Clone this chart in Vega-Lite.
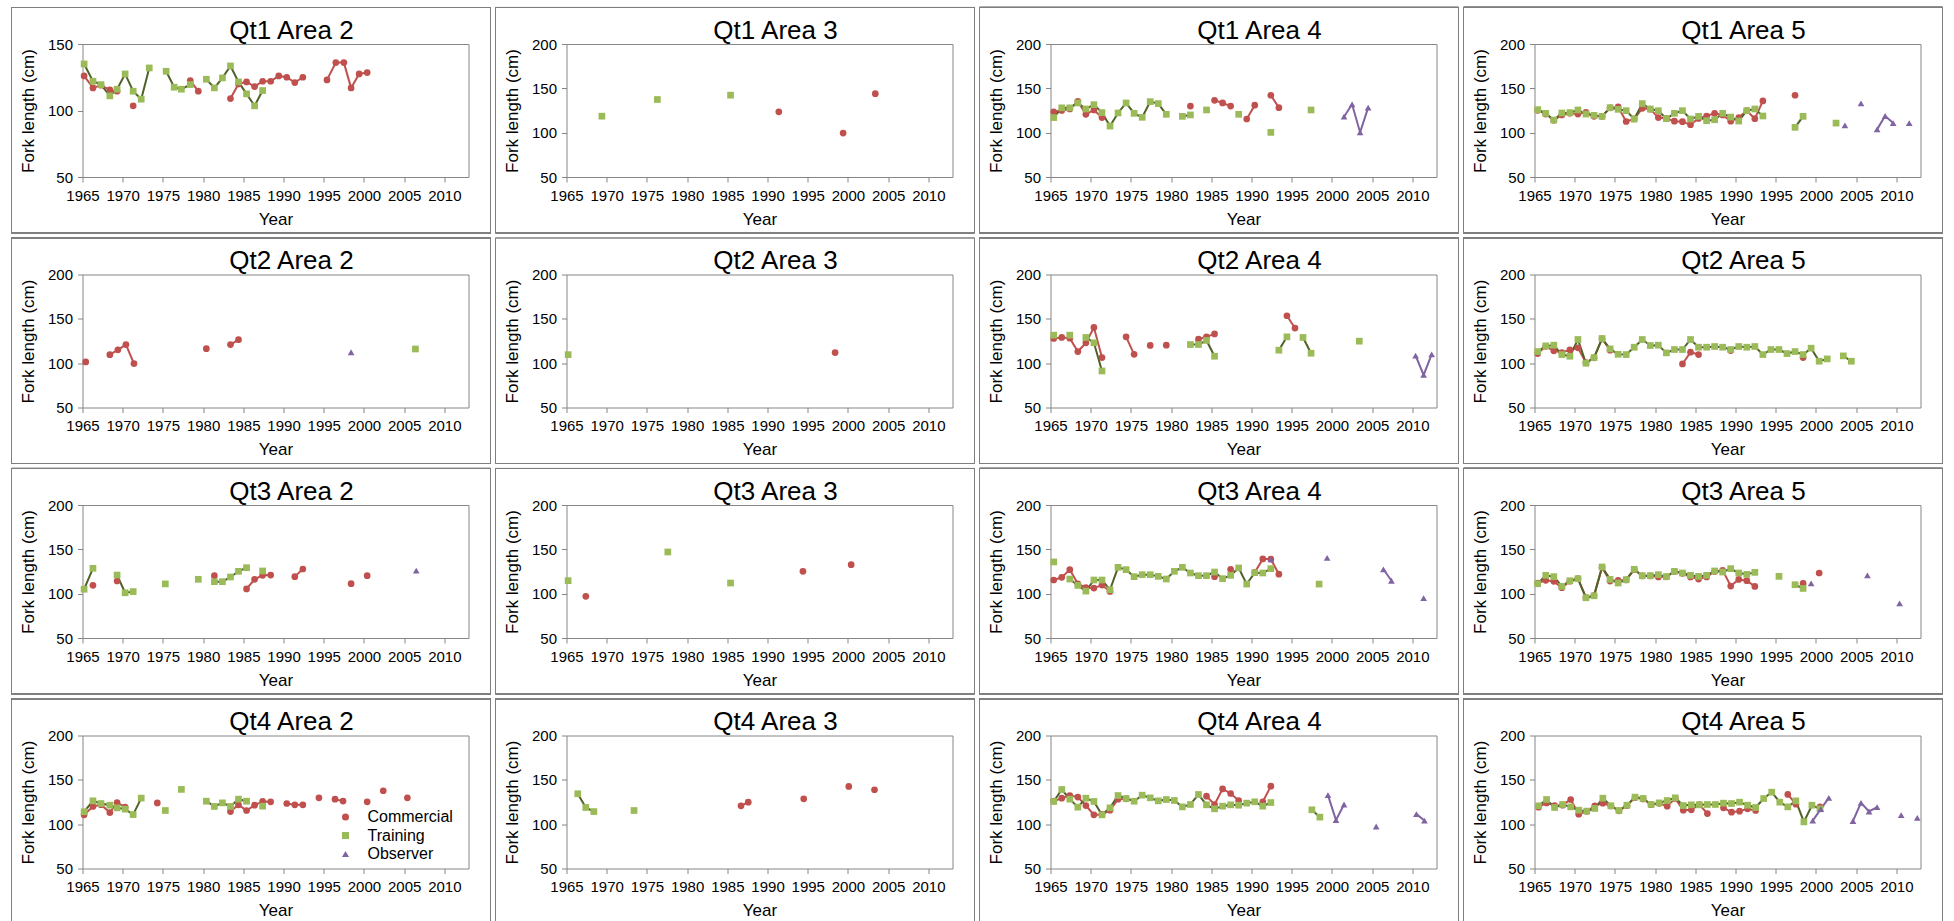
{
"$schema": "https://vega.github.io/schema/vega-lite/v6.json",
"background": "white",
"padding": {"left": 10.5, "top": 6, "right": 0, "bottom": 0},
"columns": 4,
"spacing": {"row": 1.5, "column": 2},
"resolve": {"scale": {"x": "independent", "y": "independent", "fill": "shared", "shape": "shared", "stroke": "shared"}, "legend": {"fill": "independent", "shape": "independent"}},
"data": {"values": [
{"q":1,"a":2,"s":"C","g":1,"x":1965.2,"y":126},{"q":1,"a":2,"s":"C","g":1,"x":1966.3,"y":117},{"q":1,"a":2,"s":"C","g":1,"x":1967.3,"y":119},{"q":1,"a":2,"s":"C","g":1,"x":1968.4,"y":115.5},{"q":1,"a":2,"s":"C","g":1,"x":1969.3,"y":114.5},
{"q":1,"a":2,"s":"C","g":2,"x":1971.3,"y":103.5},
{"q":1,"a":2,"s":"C","g":3,"x":1978.4,"y":122.5},{"q":1,"a":2,"s":"C","g":3,"x":1979.4,"y":114.5},
{"q":1,"a":2,"s":"C","g":4,"x":1983.4,"y":109},{"q":1,"a":2,"s":"C","g":4,"x":1984.4,"y":120},{"q":1,"a":2,"s":"C","g":4,"x":1985.4,"y":121.5},{"q":1,"a":2,"s":"C","g":4,"x":1986.4,"y":118},{"q":1,"a":2,"s":"C","g":4,"x":1987.4,"y":122},{"q":1,"a":2,"s":"C","g":4,"x":1988.4,"y":122},{"q":1,"a":2,"s":"C","g":4,"x":1989.4,"y":126},{"q":1,"a":2,"s":"C","g":4,"x":1990.4,"y":125},{"q":1,"a":2,"s":"C","g":4,"x":1991.4,"y":121},{"q":1,"a":2,"s":"C","g":4,"x":1992.4,"y":125},
{"q":1,"a":2,"s":"C","g":5,"x":1995.4,"y":123},{"q":1,"a":2,"s":"C","g":5,"x":1996.5,"y":136},{"q":1,"a":2,"s":"C","g":5,"x":1997.5,"y":136},{"q":1,"a":2,"s":"C","g":5,"x":1998.4,"y":117},{"q":1,"a":2,"s":"C","g":5,"x":1999.4,"y":127.5},{"q":1,"a":2,"s":"C","g":5,"x":2000.4,"y":128.5},
{"q":1,"a":2,"s":"T","g":1,"x":1965.2,"y":135},{"q":1,"a":2,"s":"T","g":1,"x":1966.3,"y":122},{"q":1,"a":2,"s":"T","g":1,"x":1967.3,"y":119.5},{"q":1,"a":2,"s":"T","g":1,"x":1968.4,"y":111},{"q":1,"a":2,"s":"T","g":1,"x":1969.3,"y":116},{"q":1,"a":2,"s":"T","g":1,"x":1970.3,"y":127.5},{"q":1,"a":2,"s":"T","g":1,"x":1971.3,"y":114.5},{"q":1,"a":2,"s":"T","g":1,"x":1972.3,"y":108.5},{"q":1,"a":2,"s":"T","g":1,"x":1973.3,"y":132},
{"q":1,"a":2,"s":"T","g":2,"x":1975.4,"y":129.5},{"q":1,"a":2,"s":"T","g":2,"x":1976.4,"y":117.5},{"q":1,"a":2,"s":"T","g":2,"x":1977.3,"y":116},{"q":1,"a":2,"s":"T","g":2,"x":1978.4,"y":119.5},
{"q":1,"a":2,"s":"T","g":3,"x":1980.4,"y":123.5},{"q":1,"a":2,"s":"T","g":3,"x":1981.4,"y":117},{"q":1,"a":2,"s":"T","g":3,"x":1982.4,"y":124.5},{"q":1,"a":2,"s":"T","g":3,"x":1983.4,"y":133.5},{"q":1,"a":2,"s":"T","g":3,"x":1984.4,"y":121.5},{"q":1,"a":2,"s":"T","g":3,"x":1985.4,"y":112.5},{"q":1,"a":2,"s":"T","g":3,"x":1986.4,"y":103.5},{"q":1,"a":2,"s":"T","g":3,"x":1987.4,"y":115},

{"q":1,"a":3,"s":"C","g":1,"x":1991.4,"y":123.5},{"q":1,"a":3,"s":"C","g":2,"x":1999.4,"y":99.5},{"q":1,"a":3,"s":"C","g":3,"x":2003.4,"y":144},
{"q":1,"a":3,"s":"T","g":1,"x":1969.4,"y":118.6},{"q":1,"a":3,"s":"T","g":2,"x":1976.3,"y":137.4},{"q":1,"a":3,"s":"T","g":3,"x":1985.4,"y":142.3},

{"q":1,"a":4,"s":"C","g":1,"x":1965.4,"y":123.5},{"q":1,"a":4,"s":"C","g":1,"x":1966.4,"y":125},{"q":1,"a":4,"s":"C","g":1,"x":1967.4,"y":126.7},{"q":1,"a":4,"s":"C","g":1,"x":1968.4,"y":135.4},{"q":1,"a":4,"s":"C","g":1,"x":1969.4,"y":120.7},{"q":1,"a":4,"s":"C","g":1,"x":1970.4,"y":125.6},{"q":1,"a":4,"s":"C","g":1,"x":1971.4,"y":117},
{"q":1,"a":4,"s":"C","g":2,"x":1982.4,"y":130},
{"q":1,"a":4,"s":"C","g":3,"x":1985.4,"y":136.5},{"q":1,"a":4,"s":"C","g":3,"x":1986.4,"y":133.5},{"q":1,"a":4,"s":"C","g":3,"x":1987.4,"y":130},
{"q":1,"a":4,"s":"C","g":4,"x":1989.4,"y":115.4},{"q":1,"a":4,"s":"C","g":4,"x":1990.4,"y":131},
{"q":1,"a":4,"s":"C","g":5,"x":1992.4,"y":142.2},{"q":1,"a":4,"s":"C","g":5,"x":1993.4,"y":128.2},
{"q":1,"a":4,"s":"T","g":1,"x":1965.4,"y":117},{"q":1,"a":4,"s":"T","g":1,"x":1966.4,"y":128},{"q":1,"a":4,"s":"T","g":1,"x":1967.4,"y":128},{"q":1,"a":4,"s":"T","g":1,"x":1968.4,"y":133.5},{"q":1,"a":4,"s":"T","g":1,"x":1969.4,"y":126.7},{"q":1,"a":4,"s":"T","g":1,"x":1970.4,"y":131.6},{"q":1,"a":4,"s":"T","g":1,"x":1971.4,"y":122.6},{"q":1,"a":4,"s":"T","g":1,"x":1972.4,"y":107.4},{"q":1,"a":4,"s":"T","g":1,"x":1973.4,"y":122.2},{"q":1,"a":4,"s":"T","g":1,"x":1974.4,"y":133.5},{"q":1,"a":4,"s":"T","g":1,"x":1975.4,"y":121.8},{"q":1,"a":4,"s":"T","g":1,"x":1976.4,"y":117.3},{"q":1,"a":4,"s":"T","g":1,"x":1977.4,"y":135},{"q":1,"a":4,"s":"T","g":1,"x":1978.4,"y":132.8},{"q":1,"a":4,"s":"T","g":1,"x":1979.4,"y":120.7},
{"q":1,"a":4,"s":"T","g":2,"x":1981.4,"y":118.4},{"q":1,"a":4,"s":"T","g":2,"x":1982.4,"y":120},
{"q":1,"a":4,"s":"T","g":3,"x":1984.4,"y":125.6},{"q":1,"a":4,"s":"T","g":4,"x":1988.4,"y":120.7},{"q":1,"a":4,"s":"T","g":5,"x":1992.4,"y":100.3},{"q":1,"a":4,"s":"T","g":6,"x":1997.4,"y":125.6},
{"q":1,"a":4,"s":"O","g":1,"x":2001.5,"y":118},{"q":1,"a":4,"s":"O","g":1,"x":2002.5,"y":132},{"q":1,"a":4,"s":"O","g":1,"x":2003.5,"y":100.3},{"q":1,"a":4,"s":"O","g":1,"x":2004.5,"y":128.2},

{"q":1,"a":5,"s":"C","g":1,"x":1965.4,"y":125.2},{"q":1,"a":5,"s":"C","g":1,"x":1966.4,"y":121},{"q":1,"a":5,"s":"C","g":1,"x":1967.4,"y":114},{"q":1,"a":5,"s":"C","g":1,"x":1968.4,"y":120},{"q":1,"a":5,"s":"C","g":1,"x":1969.4,"y":122},{"q":1,"a":5,"s":"C","g":1,"x":1970.4,"y":121},{"q":1,"a":5,"s":"C","g":1,"x":1971.4,"y":123},{"q":1,"a":5,"s":"C","g":1,"x":1972.4,"y":118.4},{"q":1,"a":5,"s":"C","g":1,"x":1973.4,"y":118.4},{"q":1,"a":5,"s":"C","g":1,"x":1974.4,"y":128},{"q":1,"a":5,"s":"C","g":1,"x":1975.4,"y":129},{"q":1,"a":5,"s":"C","g":1,"x":1976.4,"y":112.6},{"q":1,"a":5,"s":"C","g":1,"x":1977.4,"y":115.5},{"q":1,"a":5,"s":"C","g":1,"x":1978.4,"y":127.5},{"q":1,"a":5,"s":"C","g":1,"x":1979.4,"y":126.5},{"q":1,"a":5,"s":"C","g":1,"x":1980.4,"y":117},{"q":1,"a":5,"s":"C","g":1,"x":1981.4,"y":116},{"q":1,"a":5,"s":"C","g":1,"x":1982.4,"y":113},{"q":1,"a":5,"s":"C","g":1,"x":1983.4,"y":112.4},{"q":1,"a":5,"s":"C","g":1,"x":1984.4,"y":109},{"q":1,"a":5,"s":"C","g":1,"x":1985.4,"y":116},{"q":1,"a":5,"s":"C","g":1,"x":1986.4,"y":118.8},{"q":1,"a":5,"s":"C","g":1,"x":1987.4,"y":121.8},{"q":1,"a":5,"s":"C","g":1,"x":1988.4,"y":120},{"q":1,"a":5,"s":"C","g":1,"x":1989.4,"y":113},{"q":1,"a":5,"s":"C","g":1,"x":1990.4,"y":117},{"q":1,"a":5,"s":"C","g":1,"x":1991.4,"y":124.8},{"q":1,"a":5,"s":"C","g":1,"x":1992.4,"y":115.8},{"q":1,"a":5,"s":"C","g":1,"x":1993.4,"y":135.8},
{"q":1,"a":5,"s":"C","g":2,"x":1997.4,"y":142.2},
{"q":1,"a":5,"s":"T","g":1,"x":1965.4,"y":126},{"q":1,"a":5,"s":"T","g":1,"x":1966.4,"y":121.8},{"q":1,"a":5,"s":"T","g":1,"x":1967.4,"y":114.2},{"q":1,"a":5,"s":"T","g":1,"x":1968.4,"y":122.2},{"q":1,"a":5,"s":"T","g":1,"x":1969.4,"y":122.6},{"q":1,"a":5,"s":"T","g":1,"x":1970.4,"y":125.6},{"q":1,"a":5,"s":"T","g":1,"x":1971.4,"y":121},{"q":1,"a":5,"s":"T","g":1,"x":1972.4,"y":119.5},{"q":1,"a":5,"s":"T","g":1,"x":1973.4,"y":118.4},{"q":1,"a":5,"s":"T","g":1,"x":1974.4,"y":128.2},{"q":1,"a":5,"s":"T","g":1,"x":1975.4,"y":126.3},{"q":1,"a":5,"s":"T","g":1,"x":1976.4,"y":124.8},{"q":1,"a":5,"s":"T","g":1,"x":1977.4,"y":115.4},{"q":1,"a":5,"s":"T","g":1,"x":1978.4,"y":132.8},{"q":1,"a":5,"s":"T","g":1,"x":1979.4,"y":126.7},{"q":1,"a":5,"s":"T","g":1,"x":1980.4,"y":124.8},{"q":1,"a":5,"s":"T","g":1,"x":1981.4,"y":115.8},{"q":1,"a":5,"s":"T","g":1,"x":1982.4,"y":121.8},{"q":1,"a":5,"s":"T","g":1,"x":1983.4,"y":124.8},{"q":1,"a":5,"s":"T","g":1,"x":1984.4,"y":115.4},{"q":1,"a":5,"s":"T","g":1,"x":1985.4,"y":118.4},{"q":1,"a":5,"s":"T","g":1,"x":1986.4,"y":113.5},{"q":1,"a":5,"s":"T","g":1,"x":1987.4,"y":114.6},{"q":1,"a":5,"s":"T","g":1,"x":1988.4,"y":121.8},{"q":1,"a":5,"s":"T","g":1,"x":1989.4,"y":117.6},{"q":1,"a":5,"s":"T","g":1,"x":1990.4,"y":113.1},{"q":1,"a":5,"s":"T","g":1,"x":1991.4,"y":124.8},{"q":1,"a":5,"s":"T","g":1,"x":1992.4,"y":126.7},{"q":1,"a":5,"s":"T","g":1,"x":1993.4,"y":118.8},
{"q":1,"a":5,"s":"T","g":2,"x":1997.4,"y":106},{"q":1,"a":5,"s":"T","g":2,"x":1998.4,"y":118.4},
{"q":1,"a":5,"s":"T","g":3,"x":2002.5,"y":110.8},
{"q":1,"a":5,"s":"O","g":1,"x":2003.6,"y":108.2},{"q":1,"a":5,"s":"O","g":2,"x":2005.6,"y":133},{"q":1,"a":5,"s":"O","g":3,"x":2007.6,"y":103.7},{"q":1,"a":5,"s":"O","g":3,"x":2008.6,"y":118.8},{"q":1,"a":5,"s":"O","g":3,"x":2009.6,"y":110.8},{"q":1,"a":5,"s":"O","g":4,"x":2011.6,"y":110.8},

{"q":2,"a":2,"s":"C","g":1,"x":1965.4,"y":101.4},{"q":2,"a":2,"s":"C","g":2,"x":1968.4,"y":109.6},{"q":2,"a":2,"s":"C","g":2,"x":1969.4,"y":115},{"q":2,"a":2,"s":"C","g":2,"x":1970.4,"y":121},{"q":2,"a":2,"s":"C","g":2,"x":1971.4,"y":99.5},{"q":2,"a":2,"s":"C","g":3,"x":1980.4,"y":116.4},{"q":2,"a":2,"s":"C","g":4,"x":1983.4,"y":121},{"q":2,"a":2,"s":"C","g":4,"x":1984.4,"y":126.5},
{"q":2,"a":2,"s":"T","g":1,"x":2006.4,"y":116},{"q":2,"a":2,"s":"O","g":1,"x":1998.4,"y":112.3},

{"q":2,"a":3,"s":"C","g":1,"x":1998.4,"y":112},{"q":2,"a":3,"s":"T","g":1,"x":1965.2,"y":109.6},

{"q":2,"a":4,"s":"C","g":1,"x":1965.4,"y":127.8},{"q":2,"a":4,"s":"C","g":1,"x":1966.4,"y":129},{"q":2,"a":4,"s":"C","g":1,"x":1967.4,"y":128.2},{"q":2,"a":4,"s":"C","g":1,"x":1968.4,"y":113.1},{"q":2,"a":4,"s":"C","g":1,"x":1969.4,"y":122.9},{"q":2,"a":4,"s":"C","g":1,"x":1970.4,"y":140.3},{"q":2,"a":4,"s":"C","g":1,"x":1971.4,"y":106.3},
{"q":2,"a":4,"s":"C","g":2,"x":1974.4,"y":129.7},{"q":2,"a":4,"s":"C","g":2,"x":1975.4,"y":110},
{"q":2,"a":4,"s":"C","g":3,"x":1977.4,"y":120},{"q":2,"a":4,"s":"C","g":4,"x":1979.4,"y":120.3},
{"q":2,"a":4,"s":"C","g":5,"x":1983.4,"y":127},{"q":2,"a":4,"s":"C","g":5,"x":1984.4,"y":129.7},{"q":2,"a":4,"s":"C","g":5,"x":1985.4,"y":133},
{"q":2,"a":4,"s":"C","g":6,"x":1994.4,"y":153.5},{"q":2,"a":4,"s":"C","g":6,"x":1995.4,"y":139.6},
{"q":2,"a":4,"s":"T","g":1,"x":1965.4,"y":131.6},{"q":2,"a":4,"s":"T","g":2,"x":1967.4,"y":131.6},
{"q":2,"a":4,"s":"T","g":3,"x":1969.4,"y":129},{"q":2,"a":4,"s":"T","g":3,"x":1970.4,"y":123},{"q":2,"a":4,"s":"T","g":3,"x":1971.4,"y":91.2},
{"q":2,"a":4,"s":"T","g":4,"x":1982.4,"y":121},{"q":2,"a":4,"s":"T","g":4,"x":1983.4,"y":121},{"q":2,"a":4,"s":"T","g":4,"x":1984.4,"y":125.6},{"q":2,"a":4,"s":"T","g":4,"x":1985.4,"y":107.8},
{"q":2,"a":4,"s":"T","g":5,"x":1993.4,"y":114.6},{"q":2,"a":4,"s":"T","g":5,"x":1994.4,"y":129.7},
{"q":2,"a":4,"s":"T","g":6,"x":1996.4,"y":129},{"q":2,"a":4,"s":"T","g":6,"x":1997.4,"y":111.2},
{"q":2,"a":4,"s":"T","g":7,"x":2003.4,"y":124.8},
{"q":2,"a":4,"s":"O","g":1,"x":2010.4,"y":108.6},{"q":2,"a":4,"s":"O","g":1,"x":2011.4,"y":86.7},{"q":2,"a":4,"s":"O","g":1,"x":2012.4,"y":110},

{"q":2,"a":5,"s":"C","g":1,"x":1965.4,"y":110.8},{"q":2,"a":5,"s":"C","g":1,"x":1966.4,"y":119},{"q":2,"a":5,"s":"C","g":1,"x":1967.4,"y":113.9},{"q":2,"a":5,"s":"C","g":1,"x":1968.4,"y":112},{"q":2,"a":5,"s":"C","g":1,"x":1969.4,"y":115},{"q":2,"a":5,"s":"C","g":1,"x":1970.4,"y":117.3},{"q":2,"a":5,"s":"C","g":1,"x":1971.4,"y":100.5},{"q":2,"a":5,"s":"C","g":1,"x":1972.4,"y":106},{"q":2,"a":5,"s":"C","g":1,"x":1973.4,"y":127.5},{"q":2,"a":5,"s":"C","g":1,"x":1974.4,"y":114.6},
{"q":2,"a":5,"s":"C","g":2,"x":1983.4,"y":99.1},{"q":2,"a":5,"s":"C","g":2,"x":1984.4,"y":112.4},{"q":2,"a":5,"s":"C","g":2,"x":1985.4,"y":109.7},
{"q":2,"a":5,"s":"C","g":3,"x":1989.4,"y":114.2},{"q":2,"a":5,"s":"C","g":4,"x":1998.4,"y":106.3},
{"q":2,"a":5,"s":"T","g":1,"x":1965.4,"y":113.1},{"q":2,"a":5,"s":"T","g":1,"x":1966.4,"y":119.5},{"q":2,"a":5,"s":"T","g":1,"x":1967.4,"y":120.3},{"q":2,"a":5,"s":"T","g":1,"x":1968.4,"y":109.7},{"q":2,"a":5,"s":"T","g":1,"x":1969.4,"y":107.8},{"q":2,"a":5,"s":"T","g":1,"x":1970.4,"y":126.7},{"q":2,"a":5,"s":"T","g":1,"x":1971.4,"y":99.9},{"q":2,"a":5,"s":"T","g":1,"x":1972.4,"y":106.3},{"q":2,"a":5,"s":"T","g":1,"x":1973.4,"y":127.8},{"q":2,"a":5,"s":"T","g":1,"x":1974.4,"y":116.1},{"q":2,"a":5,"s":"T","g":1,"x":1975.4,"y":110},{"q":2,"a":5,"s":"T","g":1,"x":1976.4,"y":109.7},{"q":2,"a":5,"s":"T","g":1,"x":1977.4,"y":118},{"q":2,"a":5,"s":"T","g":1,"x":1978.4,"y":126.7},{"q":2,"a":5,"s":"T","g":1,"x":1979.4,"y":119.9},{"q":2,"a":5,"s":"T","g":1,"x":1980.4,"y":120.3},{"q":2,"a":5,"s":"T","g":1,"x":1981.4,"y":111.6},{"q":2,"a":5,"s":"T","g":1,"x":1982.4,"y":115.4},{"q":2,"a":5,"s":"T","g":1,"x":1983.4,"y":115.4},{"q":2,"a":5,"s":"T","g":1,"x":1984.4,"y":126.7},{"q":2,"a":5,"s":"T","g":1,"x":1985.4,"y":118},{"q":2,"a":5,"s":"T","g":1,"x":1986.4,"y":118},{"q":2,"a":5,"s":"T","g":1,"x":1987.4,"y":118.8},{"q":2,"a":5,"s":"T","g":1,"x":1988.4,"y":118},{"q":2,"a":5,"s":"T","g":1,"x":1989.4,"y":115.4},{"q":2,"a":5,"s":"T","g":1,"x":1990.4,"y":118.8},{"q":2,"a":5,"s":"T","g":1,"x":1991.4,"y":118},{"q":2,"a":5,"s":"T","g":1,"x":1992.4,"y":118.8},{"q":2,"a":5,"s":"T","g":1,"x":1993.4,"y":109.7},{"q":2,"a":5,"s":"T","g":1,"x":1994.4,"y":115.4},{"q":2,"a":5,"s":"T","g":1,"x":1995.4,"y":115.4},{"q":2,"a":5,"s":"T","g":1,"x":1996.4,"y":110.8},{"q":2,"a":5,"s":"T","g":1,"x":1997.4,"y":113.1},{"q":2,"a":5,"s":"T","g":1,"x":1998.4,"y":109.7},{"q":2,"a":5,"s":"T","g":1,"x":1999.4,"y":116.9},{"q":2,"a":5,"s":"T","g":1,"x":2000.4,"y":102.2},{"q":2,"a":5,"s":"T","g":1,"x":2001.4,"y":104.8},
{"q":2,"a":5,"s":"T","g":2,"x":2003.4,"y":108.2},{"q":2,"a":5,"s":"T","g":2,"x":2004.4,"y":102.2},

{"q":3,"a":2,"s":"C","g":1,"x":1966.3,"y":109.4},{"q":3,"a":2,"s":"C","g":2,"x":1969.3,"y":114.3},{"q":3,"a":2,"s":"C","g":3,"x":1981.4,"y":120.3},
{"q":3,"a":2,"s":"C","g":4,"x":1985.4,"y":105.3},{"q":3,"a":2,"s":"C","g":4,"x":1986.4,"y":116.2},{"q":3,"a":2,"s":"C","g":4,"x":1987.4,"y":120.7},{"q":3,"a":2,"s":"C","g":4,"x":1988.4,"y":121},
{"q":3,"a":2,"s":"C","g":5,"x":1991.4,"y":119.2},{"q":3,"a":2,"s":"C","g":5,"x":1992.4,"y":127.8},
{"q":3,"a":2,"s":"C","g":6,"x":1998.4,"y":111.3},{"q":3,"a":2,"s":"C","g":7,"x":2000.4,"y":120.3},
{"q":3,"a":2,"s":"T","g":1,"x":1965.2,"y":105},{"q":3,"a":2,"s":"T","g":1,"x":1966.3,"y":128.6},
{"q":3,"a":2,"s":"T","g":2,"x":1969.3,"y":121},{"q":3,"a":2,"s":"T","g":2,"x":1970.3,"y":101},{"q":3,"a":2,"s":"T","g":2,"x":1971.3,"y":102.3},
{"q":3,"a":2,"s":"T","g":3,"x":1975.3,"y":111},{"q":3,"a":2,"s":"T","g":4,"x":1979.4,"y":116.2},
{"q":3,"a":2,"s":"T","g":5,"x":1981.4,"y":113.5},{"q":3,"a":2,"s":"T","g":5,"x":1982.4,"y":113.5},{"q":3,"a":2,"s":"T","g":5,"x":1983.4,"y":118.8},{"q":3,"a":2,"s":"T","g":5,"x":1984.4,"y":125.2},{"q":3,"a":2,"s":"T","g":5,"x":1985.4,"y":129.3},
{"q":3,"a":2,"s":"T","g":6,"x":1987.4,"y":125.6},
{"q":3,"a":2,"s":"O","g":1,"x":2006.5,"y":126},

{"q":3,"a":3,"s":"C","g":1,"x":1967.4,"y":97},{"q":3,"a":3,"s":"C","g":2,"x":1994.4,"y":125.2},{"q":3,"a":3,"s":"C","g":3,"x":2000.4,"y":132.7},
{"q":3,"a":3,"s":"T","g":1,"x":1965.2,"y":114.7},{"q":3,"a":3,"s":"T","g":2,"x":1977.6,"y":147},{"q":3,"a":3,"s":"T","g":3,"x":1985.4,"y":112},

{"q":3,"a":4,"s":"C","g":1,"x":1965.4,"y":115.4},{"q":3,"a":4,"s":"C","g":1,"x":1966.4,"y":118.4},{"q":3,"a":4,"s":"C","g":1,"x":1967.4,"y":127.1},{"q":3,"a":4,"s":"C","g":1,"x":1968.4,"y":111.2},{"q":3,"a":4,"s":"C","g":1,"x":1969.4,"y":106.7},{"q":3,"a":4,"s":"C","g":1,"x":1970.4,"y":106.3},{"q":3,"a":4,"s":"C","g":1,"x":1971.4,"y":109.7},{"q":3,"a":4,"s":"C","g":1,"x":1972.4,"y":102.5},
{"q":3,"a":4,"s":"C","g":2,"x":1985.4,"y":119.2},{"q":3,"a":4,"s":"C","g":3,"x":1987.4,"y":127.5},
{"q":3,"a":4,"s":"C","g":4,"x":1990.4,"y":124},{"q":3,"a":4,"s":"C","g":4,"x":1991.4,"y":139.2},{"q":3,"a":4,"s":"C","g":4,"x":1992.4,"y":139},{"q":3,"a":4,"s":"C","g":4,"x":1993.4,"y":122},
{"q":3,"a":4,"s":"T","g":1,"x":1965.4,"y":135.8},
{"q":3,"a":4,"s":"T","g":2,"x":1967.4,"y":116.5},{"q":3,"a":4,"s":"T","g":2,"x":1968.4,"y":109.3},{"q":3,"a":4,"s":"T","g":2,"x":1969.4,"y":102.9},{"q":3,"a":4,"s":"T","g":2,"x":1970.4,"y":115.4},{"q":3,"a":4,"s":"T","g":2,"x":1971.4,"y":115.4},{"q":3,"a":4,"s":"T","g":2,"x":1972.4,"y":104.4},{"q":3,"a":4,"s":"T","g":2,"x":1973.4,"y":129.7},{"q":3,"a":4,"s":"T","g":2,"x":1974.4,"y":127.1},{"q":3,"a":4,"s":"T","g":2,"x":1975.4,"y":119.2},{"q":3,"a":4,"s":"T","g":2,"x":1976.4,"y":121.4},{"q":3,"a":4,"s":"T","g":2,"x":1977.4,"y":121.4},{"q":3,"a":4,"s":"T","g":2,"x":1978.4,"y":119.5},{"q":3,"a":4,"s":"T","g":2,"x":1979.4,"y":116.5},{"q":3,"a":4,"s":"T","g":2,"x":1980.4,"y":125.2},{"q":3,"a":4,"s":"T","g":2,"x":1981.4,"y":129.7},{"q":3,"a":4,"s":"T","g":2,"x":1982.4,"y":123.3},{"q":3,"a":4,"s":"T","g":2,"x":1983.4,"y":120.3},{"q":3,"a":4,"s":"T","g":2,"x":1984.4,"y":120.3},{"q":3,"a":4,"s":"T","g":2,"x":1985.4,"y":124.4},{"q":3,"a":4,"s":"T","g":2,"x":1986.4,"y":116.9},{"q":3,"a":4,"s":"T","g":2,"x":1987.4,"y":120.7},{"q":3,"a":4,"s":"T","g":2,"x":1988.4,"y":129},{"q":3,"a":4,"s":"T","g":2,"x":1989.4,"y":110.8},{"q":3,"a":4,"s":"T","g":2,"x":1990.4,"y":123.7},{"q":3,"a":4,"s":"T","g":2,"x":1991.4,"y":123.3},{"q":3,"a":4,"s":"T","g":2,"x":1992.4,"y":128.2},
{"q":3,"a":4,"s":"T","g":3,"x":1998.4,"y":110.8},
{"q":3,"a":4,"s":"O","g":1,"x":1992.4,"y":138.8},{"q":3,"a":4,"s":"O","g":2,"x":1999.4,"y":140.3},{"q":3,"a":4,"s":"O","g":3,"x":2006.4,"y":127.5},{"q":3,"a":4,"s":"O","g":3,"x":2007.4,"y":114.6},{"q":3,"a":4,"s":"O","g":4,"x":2011.4,"y":95},

{"q":3,"a":5,"s":"C","g":1,"x":1965.4,"y":112},{"q":3,"a":5,"s":"C","g":1,"x":1966.4,"y":115},{"q":3,"a":5,"s":"C","g":1,"x":1967.4,"y":113.9},{"q":3,"a":5,"s":"C","g":1,"x":1968.4,"y":106.7},{"q":3,"a":5,"s":"C","g":1,"x":1969.4,"y":114},{"q":3,"a":5,"s":"C","g":1,"x":1970.4,"y":117},{"q":3,"a":5,"s":"C","g":1,"x":1971.4,"y":95.5},{"q":3,"a":5,"s":"C","g":1,"x":1972.4,"y":97.8},{"q":3,"a":5,"s":"C","g":1,"x":1973.4,"y":129.5},{"q":3,"a":5,"s":"C","g":1,"x":1974.4,"y":114.2},{"q":3,"a":5,"s":"C","g":1,"x":1975.4,"y":115},{"q":3,"a":5,"s":"C","g":1,"x":1976.4,"y":115.5},{"q":3,"a":5,"s":"C","g":1,"x":1977.4,"y":127},{"q":3,"a":5,"s":"C","g":1,"x":1978.4,"y":120},{"q":3,"a":5,"s":"C","g":1,"x":1979.4,"y":120},{"q":3,"a":5,"s":"C","g":1,"x":1980.4,"y":118.8},{"q":3,"a":5,"s":"C","g":1,"x":1981.4,"y":119},{"q":3,"a":5,"s":"C","g":1,"x":1982.4,"y":125},{"q":3,"a":5,"s":"C","g":1,"x":1983.4,"y":123},{"q":3,"a":5,"s":"C","g":1,"x":1984.4,"y":118.8},{"q":3,"a":5,"s":"C","g":1,"x":1985.4,"y":116.5},{"q":3,"a":5,"s":"C","g":1,"x":1986.4,"y":118.8},{"q":3,"a":5,"s":"C","g":1,"x":1987.4,"y":125},{"q":3,"a":5,"s":"C","g":1,"x":1988.4,"y":126.3},{"q":3,"a":5,"s":"C","g":1,"x":1989.4,"y":108.6},{"q":3,"a":5,"s":"C","g":1,"x":1990.4,"y":116.1},{"q":3,"a":5,"s":"C","g":1,"x":1991.4,"y":114.6},{"q":3,"a":5,"s":"C","g":1,"x":1992.4,"y":108.2},
{"q":3,"a":5,"s":"C","g":2,"x":1998.4,"y":111.6},{"q":3,"a":5,"s":"C","g":3,"x":2000.4,"y":123.3},
{"q":3,"a":5,"s":"T","g":1,"x":1965.4,"y":111.2},{"q":3,"a":5,"s":"T","g":1,"x":1966.4,"y":120.7},{"q":3,"a":5,"s":"T","g":1,"x":1967.4,"y":119.2},{"q":3,"a":5,"s":"T","g":1,"x":1968.4,"y":108.2},{"q":3,"a":5,"s":"T","g":1,"x":1969.4,"y":114.6},{"q":3,"a":5,"s":"T","g":1,"x":1970.4,"y":116.9},{"q":3,"a":5,"s":"T","g":1,"x":1971.4,"y":95.4},{"q":3,"a":5,"s":"T","g":1,"x":1972.4,"y":97.6},{"q":3,"a":5,"s":"T","g":1,"x":1973.4,"y":130.1},{"q":3,"a":5,"s":"T","g":1,"x":1974.4,"y":116.1},{"q":3,"a":5,"s":"T","g":1,"x":1975.4,"y":112},{"q":3,"a":5,"s":"T","g":1,"x":1976.4,"y":115.8},{"q":3,"a":5,"s":"T","g":1,"x":1977.4,"y":127.5},{"q":3,"a":5,"s":"T","g":1,"x":1978.4,"y":120.3},{"q":3,"a":5,"s":"T","g":1,"x":1979.4,"y":120.3},{"q":3,"a":5,"s":"T","g":1,"x":1980.4,"y":121.4},{"q":3,"a":5,"s":"T","g":1,"x":1981.4,"y":119.2},{"q":3,"a":5,"s":"T","g":1,"x":1982.4,"y":125.2},{"q":3,"a":5,"s":"T","g":1,"x":1983.4,"y":123.3},{"q":3,"a":5,"s":"T","g":1,"x":1984.4,"y":120.7},{"q":3,"a":5,"s":"T","g":1,"x":1985.4,"y":119.5},{"q":3,"a":5,"s":"T","g":1,"x":1986.4,"y":120.7},{"q":3,"a":5,"s":"T","g":1,"x":1987.4,"y":125.6},{"q":3,"a":5,"s":"T","g":1,"x":1988.4,"y":124.4},{"q":3,"a":5,"s":"T","g":1,"x":1989.4,"y":128.2},{"q":3,"a":5,"s":"T","g":1,"x":1990.4,"y":123.3},{"q":3,"a":5,"s":"T","g":1,"x":1991.4,"y":121.8},{"q":3,"a":5,"s":"T","g":1,"x":1992.4,"y":124},
{"q":3,"a":5,"s":"T","g":2,"x":1995.4,"y":119.5},{"q":3,"a":5,"s":"T","g":3,"x":1997.4,"y":110.1},{"q":3,"a":5,"s":"T","g":3,"x":1998.4,"y":105.9},
{"q":3,"a":5,"s":"O","g":1,"x":1999.4,"y":111.6},{"q":3,"a":5,"s":"O","g":2,"x":2006.4,"y":120.7},{"q":3,"a":5,"s":"O","g":3,"x":2010.4,"y":89},

{"q":4,"a":2,"s":"C","g":1,"x":1965.2,"y":110.5},{"q":4,"a":2,"s":"C","g":1,"x":1966.3,"y":120},{"q":4,"a":2,"s":"C","g":1,"x":1967.3,"y":122},{"q":4,"a":2,"s":"C","g":1,"x":1968.4,"y":113.1},{"q":4,"a":2,"s":"C","g":1,"x":1969.3,"y":124.4},{"q":4,"a":2,"s":"C","g":1,"x":1970.3,"y":119.2},
{"q":4,"a":2,"s":"C","g":2,"x":1974.3,"y":124},
{"q":4,"a":2,"s":"C","g":3,"x":1983.4,"y":114.2},{"q":4,"a":2,"s":"C","g":3,"x":1984.4,"y":121.8},{"q":4,"a":2,"s":"C","g":3,"x":1985.4,"y":115.4},{"q":4,"a":2,"s":"C","g":3,"x":1986.4,"y":121.4},{"q":4,"a":2,"s":"C","g":3,"x":1987.4,"y":125.6},{"q":4,"a":2,"s":"C","g":3,"x":1988.4,"y":125.2},
{"q":4,"a":2,"s":"C","g":4,"x":1990.4,"y":123.3},{"q":4,"a":2,"s":"C","g":4,"x":1991.4,"y":121.8},{"q":4,"a":2,"s":"C","g":4,"x":1992.4,"y":121.8},
{"q":4,"a":2,"s":"C","g":5,"x":1994.4,"y":129.7},{"q":4,"a":2,"s":"C","g":6,"x":1996.4,"y":128.2},{"q":4,"a":2,"s":"C","g":6,"x":1997.4,"y":126},{"q":4,"a":2,"s":"C","g":7,"x":2000.4,"y":125.2},{"q":4,"a":2,"s":"C","g":8,"x":2002.4,"y":137.7},{"q":4,"a":2,"s":"C","g":9,"x":2005.4,"y":129.7},
{"q":4,"a":2,"s":"T","g":1,"x":1965.2,"y":114},{"q":4,"a":2,"s":"T","g":1,"x":1966.3,"y":126.3},{"q":4,"a":2,"s":"T","g":1,"x":1967.3,"y":123.3},{"q":4,"a":2,"s":"T","g":1,"x":1968.4,"y":121.4},{"q":4,"a":2,"s":"T","g":1,"x":1969.3,"y":118.4},{"q":4,"a":2,"s":"T","g":1,"x":1970.3,"y":117},{"q":4,"a":2,"s":"T","g":1,"x":1971.3,"y":110.8},{"q":4,"a":2,"s":"T","g":1,"x":1972.3,"y":129.4},
{"q":4,"a":2,"s":"T","g":2,"x":1975.3,"y":115.4},{"q":4,"a":2,"s":"T","g":3,"x":1977.3,"y":139.2},
{"q":4,"a":2,"s":"T","g":4,"x":1980.4,"y":125.9},{"q":4,"a":2,"s":"T","g":4,"x":1981.4,"y":120},{"q":4,"a":2,"s":"T","g":4,"x":1982.4,"y":124},{"q":4,"a":2,"s":"T","g":4,"x":1983.4,"y":120},{"q":4,"a":2,"s":"T","g":4,"x":1984.4,"y":128.2},{"q":4,"a":2,"s":"T","g":4,"x":1985.4,"y":125.9},
{"q":4,"a":2,"s":"T","g":5,"x":1987.4,"y":120.3},

{"q":4,"a":3,"s":"C","g":1,"x":1986.7,"y":120.7},{"q":4,"a":3,"s":"C","g":1,"x":1987.6,"y":124.8},{"q":4,"a":3,"s":"C","g":2,"x":1994.5,"y":128.6},{"q":4,"a":3,"s":"C","g":3,"x":2000.1,"y":142.6},{"q":4,"a":3,"s":"C","g":4,"x":2003.3,"y":138.8},
{"q":4,"a":3,"s":"T","g":1,"x":1966.4,"y":134.3},{"q":4,"a":3,"s":"T","g":1,"x":1967.4,"y":118.8},{"q":4,"a":3,"s":"T","g":1,"x":1968.4,"y":114.2},{"q":4,"a":3,"s":"T","g":2,"x":1973.4,"y":115.4},

{"q":4,"a":4,"s":"C","g":1,"x":1965.4,"y":126},{"q":4,"a":4,"s":"C","g":1,"x":1966.4,"y":129.3},{"q":4,"a":4,"s":"C","g":1,"x":1967.4,"y":132.3},{"q":4,"a":4,"s":"C","g":1,"x":1968.4,"y":130.5},{"q":4,"a":4,"s":"C","g":1,"x":1969.4,"y":121},{"q":4,"a":4,"s":"C","g":1,"x":1970.4,"y":110.5},{"q":4,"a":4,"s":"C","g":1,"x":1971.4,"y":111},{"q":4,"a":4,"s":"C","g":1,"x":1972.4,"y":115.8},{"q":4,"a":4,"s":"C","g":1,"x":1973.4,"y":128.2},{"q":4,"a":4,"s":"C","g":1,"x":1974.4,"y":128.6},
{"q":4,"a":4,"s":"C","g":2,"x":1984.4,"y":131.6},{"q":4,"a":4,"s":"C","g":2,"x":1985.4,"y":122.2},{"q":4,"a":4,"s":"C","g":2,"x":1986.4,"y":139.8},{"q":4,"a":4,"s":"C","g":2,"x":1987.4,"y":134.6},{"q":4,"a":4,"s":"C","g":2,"x":1988.4,"y":126.7},
{"q":4,"a":4,"s":"C","g":3,"x":1991.4,"y":125.2},{"q":4,"a":4,"s":"C","g":3,"x":1992.4,"y":142.9},
{"q":4,"a":4,"s":"T","g":1,"x":1965.4,"y":125.6},{"q":4,"a":4,"s":"T","g":1,"x":1966.4,"y":139.1},{"q":4,"a":4,"s":"T","g":1,"x":1967.4,"y":128.2},{"q":4,"a":4,"s":"T","g":1,"x":1968.4,"y":119.2},{"q":4,"a":4,"s":"T","g":1,"x":1969.4,"y":129.3},{"q":4,"a":4,"s":"T","g":1,"x":1970.4,"y":125.6},{"q":4,"a":4,"s":"T","g":1,"x":1971.4,"y":110.5},{"q":4,"a":4,"s":"T","g":1,"x":1972.4,"y":118.4},{"q":4,"a":4,"s":"T","g":1,"x":1973.4,"y":132.3},{"q":4,"a":4,"s":"T","g":1,"x":1974.4,"y":128.9},{"q":4,"a":4,"s":"T","g":1,"x":1975.4,"y":125.9},{"q":4,"a":4,"s":"T","g":1,"x":1976.4,"y":132.7},{"q":4,"a":4,"s":"T","g":1,"x":1977.4,"y":129.7},{"q":4,"a":4,"s":"T","g":1,"x":1978.4,"y":126.3},{"q":4,"a":4,"s":"T","g":1,"x":1979.4,"y":127.8},{"q":4,"a":4,"s":"T","g":1,"x":1980.4,"y":126.7},{"q":4,"a":4,"s":"T","g":1,"x":1981.4,"y":119.5},{"q":4,"a":4,"s":"T","g":1,"x":1982.4,"y":122.2},{"q":4,"a":4,"s":"T","g":1,"x":1983.4,"y":133.5},{"q":4,"a":4,"s":"T","g":1,"x":1984.4,"y":121.8},{"q":4,"a":4,"s":"T","g":1,"x":1985.4,"y":117.3},{"q":4,"a":4,"s":"T","g":1,"x":1986.4,"y":120.3},{"q":4,"a":4,"s":"T","g":1,"x":1987.4,"y":121.8},{"q":4,"a":4,"s":"T","g":1,"x":1988.4,"y":121.4},{"q":4,"a":4,"s":"T","g":1,"x":1989.4,"y":123.7},{"q":4,"a":4,"s":"T","g":1,"x":1990.4,"y":125.2},{"q":4,"a":4,"s":"T","g":1,"x":1991.4,"y":120.3},{"q":4,"a":4,"s":"T","g":1,"x":1992.4,"y":124.4},
{"q":4,"a":4,"s":"T","g":2,"x":1997.5,"y":116.2},{"q":4,"a":4,"s":"T","g":2,"x":1998.5,"y":107.9},
{"q":4,"a":4,"s":"O","g":1,"x":1999.5,"y":132.7},{"q":4,"a":4,"s":"O","g":1,"x":2000.5,"y":104.5},{"q":4,"a":4,"s":"O","g":1,"x":2001.5,"y":122.2},{"q":4,"a":4,"s":"O","g":2,"x":2005.5,"y":97.4},{"q":4,"a":4,"s":"O","g":3,"x":2010.5,"y":111.3},{"q":4,"a":4,"s":"O","g":3,"x":2011.5,"y":104.1},

{"q":4,"a":5,"s":"C","g":1,"x":1965.5,"y":119.2},{"q":4,"a":5,"s":"C","g":1,"x":1966.5,"y":124},{"q":4,"a":5,"s":"C","g":1,"x":1967.5,"y":121},{"q":4,"a":5,"s":"C","g":1,"x":1968.5,"y":121.4},{"q":4,"a":5,"s":"C","g":1,"x":1969.5,"y":127.8},{"q":4,"a":5,"s":"C","g":1,"x":1970.5,"y":111.3},{"q":4,"a":5,"s":"C","g":1,"x":1971.5,"y":114.5},{"q":4,"a":5,"s":"C","g":1,"x":1972.5,"y":120.7},{"q":4,"a":5,"s":"C","g":1,"x":1973.5,"y":123.7},{"q":4,"a":5,"s":"C","g":1,"x":1974.5,"y":120.5},{"q":4,"a":5,"s":"C","g":1,"x":1975.5,"y":115},{"q":4,"a":5,"s":"C","g":1,"x":1976.5,"y":121},{"q":4,"a":5,"s":"C","g":1,"x":1977.5,"y":130},{"q":4,"a":5,"s":"C","g":1,"x":1978.5,"y":128.5},{"q":4,"a":5,"s":"C","g":1,"x":1979.5,"y":122},{"q":4,"a":5,"s":"C","g":1,"x":1980.5,"y":123.5},{"q":4,"a":5,"s":"C","g":1,"x":1981.5,"y":120.3},{"q":4,"a":5,"s":"C","g":1,"x":1982.5,"y":129},{"q":4,"a":5,"s":"C","g":1,"x":1983.5,"y":115.8},{"q":4,"a":5,"s":"C","g":1,"x":1984.5,"y":116.2},{"q":4,"a":5,"s":"C","g":1,"x":1985.5,"y":122.2},{"q":4,"a":5,"s":"C","g":1,"x":1986.5,"y":112},
{"q":4,"a":5,"s":"C","g":2,"x":1988.5,"y":118.4},{"q":4,"a":5,"s":"C","g":2,"x":1989.5,"y":113.5},{"q":4,"a":5,"s":"C","g":2,"x":1990.5,"y":114.7},{"q":4,"a":5,"s":"C","g":2,"x":1991.5,"y":117.3},{"q":4,"a":5,"s":"C","g":2,"x":1992.5,"y":115.4},
{"q":4,"a":5,"s":"C","g":3,"x":1996.5,"y":133.5},{"q":4,"a":5,"s":"C","g":3,"x":1997.5,"y":122.6},{"q":4,"a":5,"s":"C","g":4,"x":2000.5,"y":119.5},
{"q":4,"a":5,"s":"T","g":1,"x":1965.5,"y":120.7},{"q":4,"a":5,"s":"T","g":1,"x":1966.5,"y":127.8},{"q":4,"a":5,"s":"T","g":1,"x":1967.5,"y":118.8},{"q":4,"a":5,"s":"T","g":1,"x":1968.5,"y":122.2},{"q":4,"a":5,"s":"T","g":1,"x":1969.5,"y":119.5},{"q":4,"a":5,"s":"T","g":1,"x":1970.5,"y":115.8},{"q":4,"a":5,"s":"T","g":1,"x":1971.5,"y":114.7},{"q":4,"a":5,"s":"T","g":1,"x":1972.5,"y":117.7},{"q":4,"a":5,"s":"T","g":1,"x":1973.5,"y":129.3},{"q":4,"a":5,"s":"T","g":1,"x":1974.5,"y":120.7},{"q":4,"a":5,"s":"T","g":1,"x":1975.5,"y":115.4},{"q":4,"a":5,"s":"T","g":1,"x":1976.5,"y":121.4},{"q":4,"a":5,"s":"T","g":1,"x":1977.5,"y":130.5},{"q":4,"a":5,"s":"T","g":1,"x":1978.5,"y":129},{"q":4,"a":5,"s":"T","g":1,"x":1979.5,"y":122.2},{"q":4,"a":5,"s":"T","g":1,"x":1980.5,"y":124},{"q":4,"a":5,"s":"T","g":1,"x":1981.5,"y":126.7},{"q":4,"a":5,"s":"T","g":1,"x":1982.5,"y":129.7},{"q":4,"a":5,"s":"T","g":1,"x":1983.5,"y":121},{"q":4,"a":5,"s":"T","g":1,"x":1984.5,"y":121.8},{"q":4,"a":5,"s":"T","g":1,"x":1985.5,"y":121.8},{"q":4,"a":5,"s":"T","g":1,"x":1986.5,"y":122.2},{"q":4,"a":5,"s":"T","g":1,"x":1987.5,"y":122.2},{"q":4,"a":5,"s":"T","g":1,"x":1988.5,"y":123.7},{"q":4,"a":5,"s":"T","g":1,"x":1989.5,"y":123.3},{"q":4,"a":5,"s":"T","g":1,"x":1990.5,"y":124.8},{"q":4,"a":5,"s":"T","g":1,"x":1991.5,"y":121.4},{"q":4,"a":5,"s":"T","g":1,"x":1992.5,"y":118.8},{"q":4,"a":5,"s":"T","g":1,"x":1993.5,"y":128.9},{"q":4,"a":5,"s":"T","g":1,"x":1994.5,"y":136.1},{"q":4,"a":5,"s":"T","g":1,"x":1995.5,"y":124.8},{"q":4,"a":5,"s":"T","g":1,"x":1996.5,"y":119.5},{"q":4,"a":5,"s":"T","g":1,"x":1997.5,"y":126.3},{"q":4,"a":5,"s":"T","g":1,"x":1998.5,"y":102.6},{"q":4,"a":5,"s":"T","g":1,"x":1999.5,"y":121.4},{"q":4,"a":5,"s":"T","g":1,"x":2000.5,"y":117.3},
{"q":4,"a":5,"s":"O","g":1,"x":1999.6,"y":104},{"q":4,"a":5,"s":"O","g":1,"x":2000.6,"y":117},{"q":4,"a":5,"s":"O","g":1,"x":2001.6,"y":129.7},
{"q":4,"a":5,"s":"O","g":2,"x":2004.6,"y":103.6},{"q":4,"a":5,"s":"O","g":2,"x":2005.6,"y":124},{"q":4,"a":5,"s":"O","g":2,"x":2006.6,"y":114.3},{"q":4,"a":5,"s":"O","g":2,"x":2007.6,"y":119.2},
{"q":4,"a":5,"s":"O","g":3,"x":2010.6,"y":110.2},{"q":4,"a":5,"s":"O","g":4,"x":2012.6,"y":107.1}
]},
"concat": [
{"title":"Qt1 Area 2","width":386,"height":133,"transform":[{"filter":"datum.q==1&&datum.a==2"}],
"encoding":{"x":{"field":"x","type":"quantitative","scale":{"domain":[1965,2013]},"axis":{"values":[1965,1970,1975,1980,1985,1990,1995,2000,2005,2010],"format":"d","title":"Year"}},"y":{"field":"y","type":"quantitative","scale":{"domain":[50,150]},"axis":{"values":[50,100,150],"title":"Fork length (cm)"}}},
"layer":[{"mark":{"type":"rect","filled":false,"color":"#7F7F7F","strokeWidth":1},"encoding":{"x":{"datum":1956.171,"title":"Year"},"x2":{"datum":2015.736},"y":{"datum":177.44,"title":"Fork length (cm)"},"y2":{"datum":7.9}}},
{"mark":{"type":"line","strokeWidth":2},"encoding":{"stroke":{"field":"s","type":"nominal","scale":{"domain":["C","T","O"],"range":["#C0504D","#4F6228","#8064A2"]},"legend":null},"detail":{"field":"g","type":"nominal"}}},
{"mark":{"type":"point","filled":true,"opacity":1,"size":45,"strokeWidth":0},"encoding":{"fill":{"field":"s","type":"nominal","title":null,"scale":{"domain":["C","T","O"],"range":["#C0504D","#9BBB59","#8064A2"]},"legend":null},"shape":{"field":"s","type":"nominal","title":null,"scale":{"domain":["C","T","O"],"range":["circle","square","triangle-up"]},"legend":null}}}]},
{"title":"Qt1 Area 3","width":386,"height":133,"transform":[{"filter":"datum.q==1&&datum.a==3"}],
"encoding":{"x":{"field":"x","type":"quantitative","scale":{"domain":[1965,2013]},"axis":{"values":[1965,1970,1975,1980,1985,1990,1995,2000,2005,2010],"format":"d","title":"Year"}},"y":{"field":"y","type":"quantitative","scale":{"domain":[50,200]},"axis":{"values":[50,100,150,200],"title":"Fork length (cm)"}}},
"layer":[{"mark":{"type":"rect","filled":false,"color":"#7F7F7F","strokeWidth":1},"encoding":{"x":{"datum":1956.171,"title":"Year"},"x2":{"datum":2015.736},"y":{"datum":241.17,"title":"Fork length (cm)"},"y2":{"datum":-13.16}}},
{"mark":{"type":"line","strokeWidth":2},"encoding":{"stroke":{"field":"s","type":"nominal","scale":{"domain":["C","T","O"],"range":["#C0504D","#4F6228","#8064A2"]},"legend":null},"detail":{"field":"g","type":"nominal"}}},
{"mark":{"type":"point","filled":true,"opacity":1,"size":45,"strokeWidth":0},"encoding":{"fill":{"field":"s","type":"nominal","title":null,"scale":{"domain":["C","T","O"],"range":["#C0504D","#9BBB59","#8064A2"]},"legend":null},"shape":{"field":"s","type":"nominal","title":null,"scale":{"domain":["C","T","O"],"range":["circle","square","triangle-up"]},"legend":null}}}]},
{"title":"Qt1 Area 4","width":386,"height":133,"transform":[{"filter":"datum.q==1&&datum.a==4"}],
"encoding":{"x":{"field":"x","type":"quantitative","scale":{"domain":[1965,2013]},"axis":{"values":[1965,1970,1975,1980,1985,1990,1995,2000,2005,2010],"format":"d","title":"Year"}},"y":{"field":"y","type":"quantitative","scale":{"domain":[50,200]},"axis":{"values":[50,100,150,200],"title":"Fork length (cm)"}}},
"layer":[{"mark":{"type":"rect","filled":false,"color":"#7F7F7F","strokeWidth":1},"encoding":{"x":{"datum":1956.171,"title":"Year"},"x2":{"datum":2015.736},"y":{"datum":241.17,"title":"Fork length (cm)"},"y2":{"datum":-13.16}}},
{"mark":{"type":"line","strokeWidth":2},"encoding":{"stroke":{"field":"s","type":"nominal","scale":{"domain":["C","T","O"],"range":["#C0504D","#4F6228","#8064A2"]},"legend":null},"detail":{"field":"g","type":"nominal"}}},
{"mark":{"type":"point","filled":true,"opacity":1,"size":45,"strokeWidth":0},"encoding":{"fill":{"field":"s","type":"nominal","title":null,"scale":{"domain":["C","T","O"],"range":["#C0504D","#9BBB59","#8064A2"]},"legend":null},"shape":{"field":"s","type":"nominal","title":null,"scale":{"domain":["C","T","O"],"range":["circle","square","triangle-up"]},"legend":null}}}]},
{"title":"Qt1 Area 5","width":386,"height":133,"transform":[{"filter":"datum.q==1&&datum.a==5"}],
"encoding":{"x":{"field":"x","type":"quantitative","scale":{"domain":[1965,2013]},"axis":{"values":[1965,1970,1975,1980,1985,1990,1995,2000,2005,2010],"format":"d","title":"Year"}},"y":{"field":"y","type":"quantitative","scale":{"domain":[50,200]},"axis":{"values":[50,100,150,200],"title":"Fork length (cm)"}}},
"layer":[{"mark":{"type":"rect","filled":false,"color":"#7F7F7F","strokeWidth":1},"encoding":{"x":{"datum":1956.171,"title":"Year"},"x2":{"datum":2015.736},"y":{"datum":241.17,"title":"Fork length (cm)"},"y2":{"datum":-13.16}}},
{"mark":{"type":"line","strokeWidth":2},"encoding":{"stroke":{"field":"s","type":"nominal","scale":{"domain":["C","T","O"],"range":["#C0504D","#4F6228","#8064A2"]},"legend":null},"detail":{"field":"g","type":"nominal"}}},
{"mark":{"type":"point","filled":true,"opacity":1,"size":45,"strokeWidth":0},"encoding":{"fill":{"field":"s","type":"nominal","title":null,"scale":{"domain":["C","T","O"],"range":["#C0504D","#9BBB59","#8064A2"]},"legend":null},"shape":{"field":"s","type":"nominal","title":null,"scale":{"domain":["C","T","O"],"range":["circle","square","triangle-up"]},"legend":null}}}]},
{"title":"Qt2 Area 2","width":386,"height":133,"transform":[{"filter":"datum.q==2&&datum.a==2"}],
"encoding":{"x":{"field":"x","type":"quantitative","scale":{"domain":[1965,2013]},"axis":{"values":[1965,1970,1975,1980,1985,1990,1995,2000,2005,2010],"format":"d","title":"Year"}},"y":{"field":"y","type":"quantitative","scale":{"domain":[50,200]},"axis":{"values":[50,100,150,200],"title":"Fork length (cm)"}}},
"layer":[{"mark":{"type":"rect","filled":false,"color":"#7F7F7F","strokeWidth":1},"encoding":{"x":{"datum":1956.171,"title":"Year"},"x2":{"datum":2015.736},"y":{"datum":241.17,"title":"Fork length (cm)"},"y2":{"datum":-13.16}}},
{"mark":{"type":"line","strokeWidth":2},"encoding":{"stroke":{"field":"s","type":"nominal","scale":{"domain":["C","T","O"],"range":["#C0504D","#4F6228","#8064A2"]},"legend":null},"detail":{"field":"g","type":"nominal"}}},
{"mark":{"type":"point","filled":true,"opacity":1,"size":45,"strokeWidth":0},"encoding":{"fill":{"field":"s","type":"nominal","title":null,"scale":{"domain":["C","T","O"],"range":["#C0504D","#9BBB59","#8064A2"]},"legend":null},"shape":{"field":"s","type":"nominal","title":null,"scale":{"domain":["C","T","O"],"range":["circle","square","triangle-up"]},"legend":null}}}]},
{"title":"Qt2 Area 3","width":386,"height":133,"transform":[{"filter":"datum.q==2&&datum.a==3"}],
"encoding":{"x":{"field":"x","type":"quantitative","scale":{"domain":[1965,2013]},"axis":{"values":[1965,1970,1975,1980,1985,1990,1995,2000,2005,2010],"format":"d","title":"Year"}},"y":{"field":"y","type":"quantitative","scale":{"domain":[50,200]},"axis":{"values":[50,100,150,200],"title":"Fork length (cm)"}}},
"layer":[{"mark":{"type":"rect","filled":false,"color":"#7F7F7F","strokeWidth":1},"encoding":{"x":{"datum":1956.171,"title":"Year"},"x2":{"datum":2015.736},"y":{"datum":241.17,"title":"Fork length (cm)"},"y2":{"datum":-13.16}}},
{"mark":{"type":"line","strokeWidth":2},"encoding":{"stroke":{"field":"s","type":"nominal","scale":{"domain":["C","T","O"],"range":["#C0504D","#4F6228","#8064A2"]},"legend":null},"detail":{"field":"g","type":"nominal"}}},
{"mark":{"type":"point","filled":true,"opacity":1,"size":45,"strokeWidth":0},"encoding":{"fill":{"field":"s","type":"nominal","title":null,"scale":{"domain":["C","T","O"],"range":["#C0504D","#9BBB59","#8064A2"]},"legend":null},"shape":{"field":"s","type":"nominal","title":null,"scale":{"domain":["C","T","O"],"range":["circle","square","triangle-up"]},"legend":null}}}]},
{"title":"Qt2 Area 4","width":386,"height":133,"transform":[{"filter":"datum.q==2&&datum.a==4"}],
"encoding":{"x":{"field":"x","type":"quantitative","scale":{"domain":[1965,2013]},"axis":{"values":[1965,1970,1975,1980,1985,1990,1995,2000,2005,2010],"format":"d","title":"Year"}},"y":{"field":"y","type":"quantitative","scale":{"domain":[50,200]},"axis":{"values":[50,100,150,200],"title":"Fork length (cm)"}}},
"layer":[{"mark":{"type":"rect","filled":false,"color":"#7F7F7F","strokeWidth":1},"encoding":{"x":{"datum":1956.171,"title":"Year"},"x2":{"datum":2015.736},"y":{"datum":241.17,"title":"Fork length (cm)"},"y2":{"datum":-13.16}}},
{"mark":{"type":"line","strokeWidth":2},"encoding":{"stroke":{"field":"s","type":"nominal","scale":{"domain":["C","T","O"],"range":["#C0504D","#4F6228","#8064A2"]},"legend":null},"detail":{"field":"g","type":"nominal"}}},
{"mark":{"type":"point","filled":true,"opacity":1,"size":45,"strokeWidth":0},"encoding":{"fill":{"field":"s","type":"nominal","title":null,"scale":{"domain":["C","T","O"],"range":["#C0504D","#9BBB59","#8064A2"]},"legend":null},"shape":{"field":"s","type":"nominal","title":null,"scale":{"domain":["C","T","O"],"range":["circle","square","triangle-up"]},"legend":null}}}]},
{"title":"Qt2 Area 5","width":386,"height":133,"transform":[{"filter":"datum.q==2&&datum.a==5"}],
"encoding":{"x":{"field":"x","type":"quantitative","scale":{"domain":[1965,2013]},"axis":{"values":[1965,1970,1975,1980,1985,1990,1995,2000,2005,2010],"format":"d","title":"Year"}},"y":{"field":"y","type":"quantitative","scale":{"domain":[50,200]},"axis":{"values":[50,100,150,200],"title":"Fork length (cm)"}}},
"layer":[{"mark":{"type":"rect","filled":false,"color":"#7F7F7F","strokeWidth":1},"encoding":{"x":{"datum":1956.171,"title":"Year"},"x2":{"datum":2015.736},"y":{"datum":241.17,"title":"Fork length (cm)"},"y2":{"datum":-13.16}}},
{"mark":{"type":"line","strokeWidth":2},"encoding":{"stroke":{"field":"s","type":"nominal","scale":{"domain":["C","T","O"],"range":["#C0504D","#4F6228","#8064A2"]},"legend":null},"detail":{"field":"g","type":"nominal"}}},
{"mark":{"type":"point","filled":true,"opacity":1,"size":45,"strokeWidth":0},"encoding":{"fill":{"field":"s","type":"nominal","title":null,"scale":{"domain":["C","T","O"],"range":["#C0504D","#9BBB59","#8064A2"]},"legend":null},"shape":{"field":"s","type":"nominal","title":null,"scale":{"domain":["C","T","O"],"range":["circle","square","triangle-up"]},"legend":null}}}]},
{"title":"Qt3 Area 2","width":386,"height":133,"transform":[{"filter":"datum.q==3&&datum.a==2"}],
"encoding":{"x":{"field":"x","type":"quantitative","scale":{"domain":[1965,2013]},"axis":{"values":[1965,1970,1975,1980,1985,1990,1995,2000,2005,2010],"format":"d","title":"Year"}},"y":{"field":"y","type":"quantitative","scale":{"domain":[50,200]},"axis":{"values":[50,100,150,200],"title":"Fork length (cm)"}}},
"layer":[{"mark":{"type":"rect","filled":false,"color":"#7F7F7F","strokeWidth":1},"encoding":{"x":{"datum":1956.171,"title":"Year"},"x2":{"datum":2015.736},"y":{"datum":241.17,"title":"Fork length (cm)"},"y2":{"datum":-13.16}}},
{"mark":{"type":"line","strokeWidth":2},"encoding":{"stroke":{"field":"s","type":"nominal","scale":{"domain":["C","T","O"],"range":["#C0504D","#4F6228","#8064A2"]},"legend":null},"detail":{"field":"g","type":"nominal"}}},
{"mark":{"type":"point","filled":true,"opacity":1,"size":45,"strokeWidth":0},"encoding":{"fill":{"field":"s","type":"nominal","title":null,"scale":{"domain":["C","T","O"],"range":["#C0504D","#9BBB59","#8064A2"]},"legend":null},"shape":{"field":"s","type":"nominal","title":null,"scale":{"domain":["C","T","O"],"range":["circle","square","triangle-up"]},"legend":null}}}]},
{"title":"Qt3 Area 3","width":386,"height":133,"transform":[{"filter":"datum.q==3&&datum.a==3"}],
"encoding":{"x":{"field":"x","type":"quantitative","scale":{"domain":[1965,2013]},"axis":{"values":[1965,1970,1975,1980,1985,1990,1995,2000,2005,2010],"format":"d","title":"Year"}},"y":{"field":"y","type":"quantitative","scale":{"domain":[50,200]},"axis":{"values":[50,100,150,200],"title":"Fork length (cm)"}}},
"layer":[{"mark":{"type":"rect","filled":false,"color":"#7F7F7F","strokeWidth":1},"encoding":{"x":{"datum":1956.171,"title":"Year"},"x2":{"datum":2015.736},"y":{"datum":241.17,"title":"Fork length (cm)"},"y2":{"datum":-13.16}}},
{"mark":{"type":"line","strokeWidth":2},"encoding":{"stroke":{"field":"s","type":"nominal","scale":{"domain":["C","T","O"],"range":["#C0504D","#4F6228","#8064A2"]},"legend":null},"detail":{"field":"g","type":"nominal"}}},
{"mark":{"type":"point","filled":true,"opacity":1,"size":45,"strokeWidth":0},"encoding":{"fill":{"field":"s","type":"nominal","title":null,"scale":{"domain":["C","T","O"],"range":["#C0504D","#9BBB59","#8064A2"]},"legend":null},"shape":{"field":"s","type":"nominal","title":null,"scale":{"domain":["C","T","O"],"range":["circle","square","triangle-up"]},"legend":null}}}]},
{"title":"Qt3 Area 4","width":386,"height":133,"transform":[{"filter":"datum.q==3&&datum.a==4"}],
"encoding":{"x":{"field":"x","type":"quantitative","scale":{"domain":[1965,2013]},"axis":{"values":[1965,1970,1975,1980,1985,1990,1995,2000,2005,2010],"format":"d","title":"Year"}},"y":{"field":"y","type":"quantitative","scale":{"domain":[50,200]},"axis":{"values":[50,100,150,200],"title":"Fork length (cm)"}}},
"layer":[{"mark":{"type":"rect","filled":false,"color":"#7F7F7F","strokeWidth":1},"encoding":{"x":{"datum":1956.171,"title":"Year"},"x2":{"datum":2015.736},"y":{"datum":241.17,"title":"Fork length (cm)"},"y2":{"datum":-13.16}}},
{"mark":{"type":"line","strokeWidth":2},"encoding":{"stroke":{"field":"s","type":"nominal","scale":{"domain":["C","T","O"],"range":["#C0504D","#4F6228","#8064A2"]},"legend":null},"detail":{"field":"g","type":"nominal"}}},
{"mark":{"type":"point","filled":true,"opacity":1,"size":45,"strokeWidth":0},"encoding":{"fill":{"field":"s","type":"nominal","title":null,"scale":{"domain":["C","T","O"],"range":["#C0504D","#9BBB59","#8064A2"]},"legend":null},"shape":{"field":"s","type":"nominal","title":null,"scale":{"domain":["C","T","O"],"range":["circle","square","triangle-up"]},"legend":null}}}]},
{"title":"Qt3 Area 5","width":386,"height":133,"transform":[{"filter":"datum.q==3&&datum.a==5"}],
"encoding":{"x":{"field":"x","type":"quantitative","scale":{"domain":[1965,2013]},"axis":{"values":[1965,1970,1975,1980,1985,1990,1995,2000,2005,2010],"format":"d","title":"Year"}},"y":{"field":"y","type":"quantitative","scale":{"domain":[50,200]},"axis":{"values":[50,100,150,200],"title":"Fork length (cm)"}}},
"layer":[{"mark":{"type":"rect","filled":false,"color":"#7F7F7F","strokeWidth":1},"encoding":{"x":{"datum":1956.171,"title":"Year"},"x2":{"datum":2015.736},"y":{"datum":241.17,"title":"Fork length (cm)"},"y2":{"datum":-13.16}}},
{"mark":{"type":"line","strokeWidth":2},"encoding":{"stroke":{"field":"s","type":"nominal","scale":{"domain":["C","T","O"],"range":["#C0504D","#4F6228","#8064A2"]},"legend":null},"detail":{"field":"g","type":"nominal"}}},
{"mark":{"type":"point","filled":true,"opacity":1,"size":45,"strokeWidth":0},"encoding":{"fill":{"field":"s","type":"nominal","title":null,"scale":{"domain":["C","T","O"],"range":["#C0504D","#9BBB59","#8064A2"]},"legend":null},"shape":{"field":"s","type":"nominal","title":null,"scale":{"domain":["C","T","O"],"range":["circle","square","triangle-up"]},"legend":null}}}]},
{"title":"Qt4 Area 2","width":386,"height":133,"transform":[{"filter":"datum.q==4&&datum.a==2"}],
"encoding":{"x":{"field":"x","type":"quantitative","scale":{"domain":[1965,2013]},"axis":{"values":[1965,1970,1975,1980,1985,1990,1995,2000,2005,2010],"format":"d","title":"Year"}},"y":{"field":"y","type":"quantitative","scale":{"domain":[50,200]},"axis":{"values":[50,100,150,200],"title":"Fork length (cm)"}}},
"layer":[{"mark":{"type":"rect","filled":false,"color":"#7F7F7F","strokeWidth":1},"encoding":{"x":{"datum":1956.171,"title":"Year"},"x2":{"datum":2015.736},"y":{"datum":241.17,"title":"Fork length (cm)"},"y2":{"datum":-13.16}}},
{"mark":{"type":"line","strokeWidth":2},"encoding":{"stroke":{"field":"s","type":"nominal","scale":{"domain":["C","T","O"],"range":["#C0504D","#4F6228","#8064A2"]},"legend":null},"detail":{"field":"g","type":"nominal"}}},
{"mark":{"type":"point","filled":true,"opacity":1,"size":45,"strokeWidth":0},"encoding":{"fill":{"field":"s","type":"nominal","title":null,"scale":{"domain":["C","T","O"],"range":["#C0504D","#9BBB59","#8064A2"]},"legend":{"orient":"none","legendX":255,"legendY":73.5,"labelExpr":"datum.label=='C'?'Commercial':datum.label=='T'?'Training':'Observer'"}},"shape":{"field":"s","type":"nominal","title":null,"scale":{"domain":["C","T","O"],"range":["circle","square","triangle-up"]},"legend":{"orient":"none","legendX":255,"legendY":73.5,"labelExpr":"datum.label=='C'?'Commercial':datum.label=='T'?'Training':'Observer'"}}}}]},
{"title":"Qt4 Area 3","width":386,"height":133,"transform":[{"filter":"datum.q==4&&datum.a==3"}],
"encoding":{"x":{"field":"x","type":"quantitative","scale":{"domain":[1965,2013]},"axis":{"values":[1965,1970,1975,1980,1985,1990,1995,2000,2005,2010],"format":"d","title":"Year"}},"y":{"field":"y","type":"quantitative","scale":{"domain":[50,200]},"axis":{"values":[50,100,150,200],"title":"Fork length (cm)"}}},
"layer":[{"mark":{"type":"rect","filled":false,"color":"#7F7F7F","strokeWidth":1},"encoding":{"x":{"datum":1956.171,"title":"Year"},"x2":{"datum":2015.736},"y":{"datum":241.17,"title":"Fork length (cm)"},"y2":{"datum":-13.16}}},
{"mark":{"type":"line","strokeWidth":2},"encoding":{"stroke":{"field":"s","type":"nominal","scale":{"domain":["C","T","O"],"range":["#C0504D","#4F6228","#8064A2"]},"legend":null},"detail":{"field":"g","type":"nominal"}}},
{"mark":{"type":"point","filled":true,"opacity":1,"size":45,"strokeWidth":0},"encoding":{"fill":{"field":"s","type":"nominal","title":null,"scale":{"domain":["C","T","O"],"range":["#C0504D","#9BBB59","#8064A2"]},"legend":null},"shape":{"field":"s","type":"nominal","title":null,"scale":{"domain":["C","T","O"],"range":["circle","square","triangle-up"]},"legend":null}}}]},
{"title":"Qt4 Area 4","width":386,"height":133,"transform":[{"filter":"datum.q==4&&datum.a==4"}],
"encoding":{"x":{"field":"x","type":"quantitative","scale":{"domain":[1965,2013]},"axis":{"values":[1965,1970,1975,1980,1985,1990,1995,2000,2005,2010],"format":"d","title":"Year"}},"y":{"field":"y","type":"quantitative","scale":{"domain":[50,200]},"axis":{"values":[50,100,150,200],"title":"Fork length (cm)"}}},
"layer":[{"mark":{"type":"rect","filled":false,"color":"#7F7F7F","strokeWidth":1},"encoding":{"x":{"datum":1956.171,"title":"Year"},"x2":{"datum":2015.736},"y":{"datum":241.17,"title":"Fork length (cm)"},"y2":{"datum":-13.16}}},
{"mark":{"type":"line","strokeWidth":2},"encoding":{"stroke":{"field":"s","type":"nominal","scale":{"domain":["C","T","O"],"range":["#C0504D","#4F6228","#8064A2"]},"legend":null},"detail":{"field":"g","type":"nominal"}}},
{"mark":{"type":"point","filled":true,"opacity":1,"size":45,"strokeWidth":0},"encoding":{"fill":{"field":"s","type":"nominal","title":null,"scale":{"domain":["C","T","O"],"range":["#C0504D","#9BBB59","#8064A2"]},"legend":null},"shape":{"field":"s","type":"nominal","title":null,"scale":{"domain":["C","T","O"],"range":["circle","square","triangle-up"]},"legend":null}}}]},
{"title":"Qt4 Area 5","width":386,"height":133,"transform":[{"filter":"datum.q==4&&datum.a==5"}],
"encoding":{"x":{"field":"x","type":"quantitative","scale":{"domain":[1965,2013]},"axis":{"values":[1965,1970,1975,1980,1985,1990,1995,2000,2005,2010],"format":"d","title":"Year"}},"y":{"field":"y","type":"quantitative","scale":{"domain":[50,200]},"axis":{"values":[50,100,150,200],"title":"Fork length (cm)"}}},
"layer":[{"mark":{"type":"rect","filled":false,"color":"#7F7F7F","strokeWidth":1},"encoding":{"x":{"datum":1956.171,"title":"Year"},"x2":{"datum":2015.736},"y":{"datum":241.17,"title":"Fork length (cm)"},"y2":{"datum":-13.16}}},
{"mark":{"type":"line","strokeWidth":2},"encoding":{"stroke":{"field":"s","type":"nominal","scale":{"domain":["C","T","O"],"range":["#C0504D","#4F6228","#8064A2"]},"legend":null},"detail":{"field":"g","type":"nominal"}}},
{"mark":{"type":"point","filled":true,"opacity":1,"size":45,"strokeWidth":0},"encoding":{"fill":{"field":"s","type":"nominal","title":null,"scale":{"domain":["C","T","O"],"range":["#C0504D","#9BBB59","#8064A2"]},"legend":null},"shape":{"field":"s","type":"nominal","title":null,"scale":{"domain":["C","T","O"],"range":["circle","square","triangle-up"]},"legend":null}}}]}
],
"config": {
"font": "Liberation Sans",
"view": {"stroke": "#868686", "strokeWidth": 1},
"axis": {"grid": false, "domain": false, "ticks": true, "tickColor": "#868686", "tickSize": 5, "labelFont": "Liberation Sans", "labelFontSize": 15, "labelColor": "#000000", "titleFont": "Liberation Sans", "titleFontSize": 17, "titleFontWeight": "normal", "titleColor": "#000000", "labelFlush": false, "labelOverlap": false},
"axisX": {"labelPadding": 6, "titlePadding": 8},
"axisY": {"labelPadding": 5, "titlePadding": 10},
"title": {"font": "Liberation Sans", "fontSize": 26, "fontWeight": "normal", "color": "#000000", "frame": "group", "anchor": "middle", "offset": -37, "dx": 16},
"legend": {"padding": 0, "labelFont": "Liberation Sans", "labelFontSize": 16, "labelColor": "#000000", "labelOffset": 14, "symbolSize": 50, "symbolStrokeWidth": 0, "rowPadding": 2.5}
}
}
